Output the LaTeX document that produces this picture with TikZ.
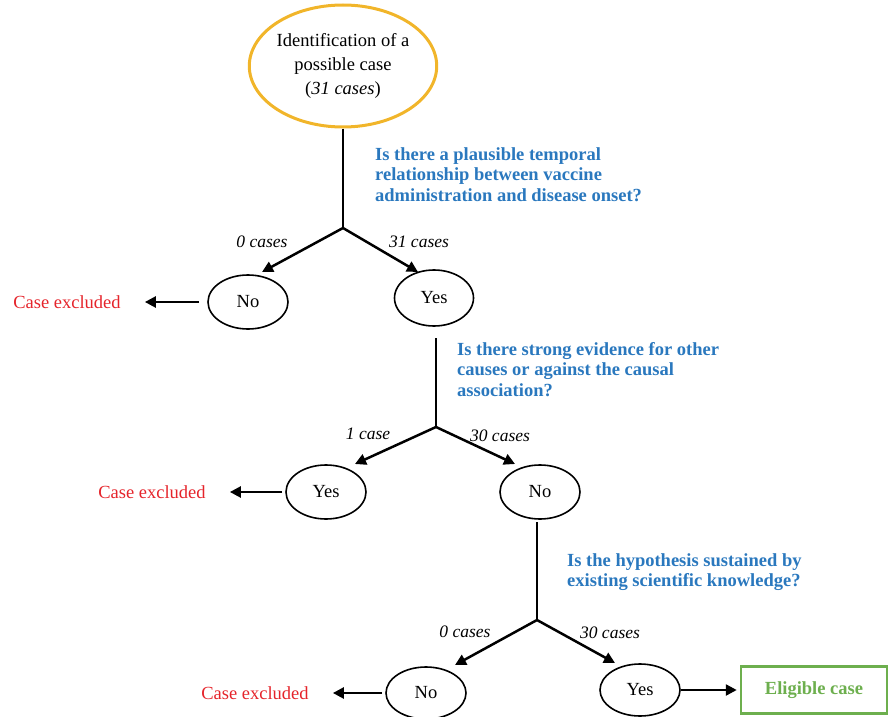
\documentclass[tikz,border=0pt]{standalone}
\usepackage{fontspec}
\setmainfont{Liberation Serif}
\usetikzlibrary{arrows.meta,shapes.geometric}
\definecolor{qblue}{HTML}{2A78BE}
\definecolor{exred}{HTML}{E5242B}
\definecolor{okgreen}{HTML}{6DAF4E}
\definecolor{topyellow}{HTML}{F1B52A}
\tikzset{
  oval/.style={draw=black, line width=1.6pt, ellipse, minimum width=80pt, minimum height=54pt, inner sep=0pt, font=\fontsize{18.5}{22}\selectfont},
  arr/.style={line width=2.5pt, -{Triangle[length=11pt,width=11pt]}},
  stem/.style={line width=2.5pt},
  quest/.style={anchor=north west, align=left, text=qblue, font=\fontsize{18.5}{20.5}\selectfont\bfseries, inner sep=0pt},
  excl/.style={text=exred, font=\fontsize{18.5}{22}\selectfont, inner sep=0pt},
  cnt/.style={font=\fontsize{17.5}{20}\selectfont\itshape, inner sep=0pt}
}
\begin{document}
\begin{tikzpicture}[x=1pt,y=-1pt]
\useasboundingbox (0,0) rectangle (892,717);
% top
\node[draw=topyellow, line width=3pt, ellipse, minimum width=168pt, minimum height=122pt, inner sep=0pt, align=center, font=\fontsize{18.5}{24}\selectfont] (top) at (343,66) {Identification of a\\possible case\\(\textit{31 cases})};
\coordinate (b1) at (343,228);
\draw[stem] (top.south) -- (b1);
\node[quest] (q1) at (375,147) {Is there a plausible temporal\\relationship between vaccine\\administration and disease onset?};
\node[oval] (no1) at (248,302) {No};
\node[oval, minimum width=79pt, minimum height=56pt] (yes1) at (434,298) {Yes};
\draw[arr] (b1) -- ([shift={(14,-30)}]no1.center);
\draw[arr] (b1) -- ([shift={(-16,-26)}]yes1.center);
\node[cnt] (c1a) at (262,242) {0 cases};
\node[cnt] (c1b) at (419,242) {31 cases};
\node[excl] (ex1) at (67,302) {Case excluded};
\draw[arr, shorten <=8pt] (no1.west) -- ([xshift=24pt]ex1.east);
% second
\coordinate (t2) at (436,338);
\coordinate (b2) at (436,427);
\draw[stem] (t2) -- (b2);
\node[quest] (q2) at (457,342) {Is there strong evidence for other\\causes or against the causal\\association?};
\node[oval] (yes2) at (326,492) {Yes};
\node[oval] (no2) at (540,492) {No};
\draw[arr] (b2) -- ([shift={(29,-28)}]yes2.center);
\draw[arr] (b2) -- ([shift={(-25,-28)}]no2.center);
\node[cnt] (c2a) at (368,434) {1 case};
\node[cnt] (c2b) at (500,436) {30 cases};
\node[excl] (ex2) at (152,492) {Case excluded};
\draw[arr, shorten <=3pt] (yes2.west) -- ([xshift=24pt]ex2.east);
% third
\coordinate (t3) at (537,522);
\coordinate (b3) at (537,620);
\draw[stem] (t3) -- (b3);
\node[quest] (q3) at (567,553) {Is the hypothesis sustained by\\existing scientific knowledge?};
\node[oval, minimum height=52pt] (no3) at (426,693) {No};
\node[oval, minimum height=52pt] (yes3) at (640,690) {Yes};
\draw[arr] (b3) -- ([shift={(29,-28)}]no3.center);
\draw[arr] (b3) -- ([shift={(-25,-27)}]yes3.center);
\node[cnt] (c3a) at (465,632) {0 cases};
\node[cnt] (c3b) at (610,633) {30 cases};
\node[excl] (ex3) at (255,693) {Case excluded};
\draw[arr, shorten <=3pt] (no3.west) -- ([xshift=24pt]ex3.east);
\node[draw=okgreen, line width=2.5pt, minimum width=146pt, minimum height=47pt, inner sep=0pt, text=okgreen, font=\fontsize{18.5}{22}\selectfont\bfseries] (elig) at (814,690) {Eligible case};
\draw[arr] (yes3.east) -- ([xshift=-3pt]elig.west);
\end{tikzpicture}
\end{document}
